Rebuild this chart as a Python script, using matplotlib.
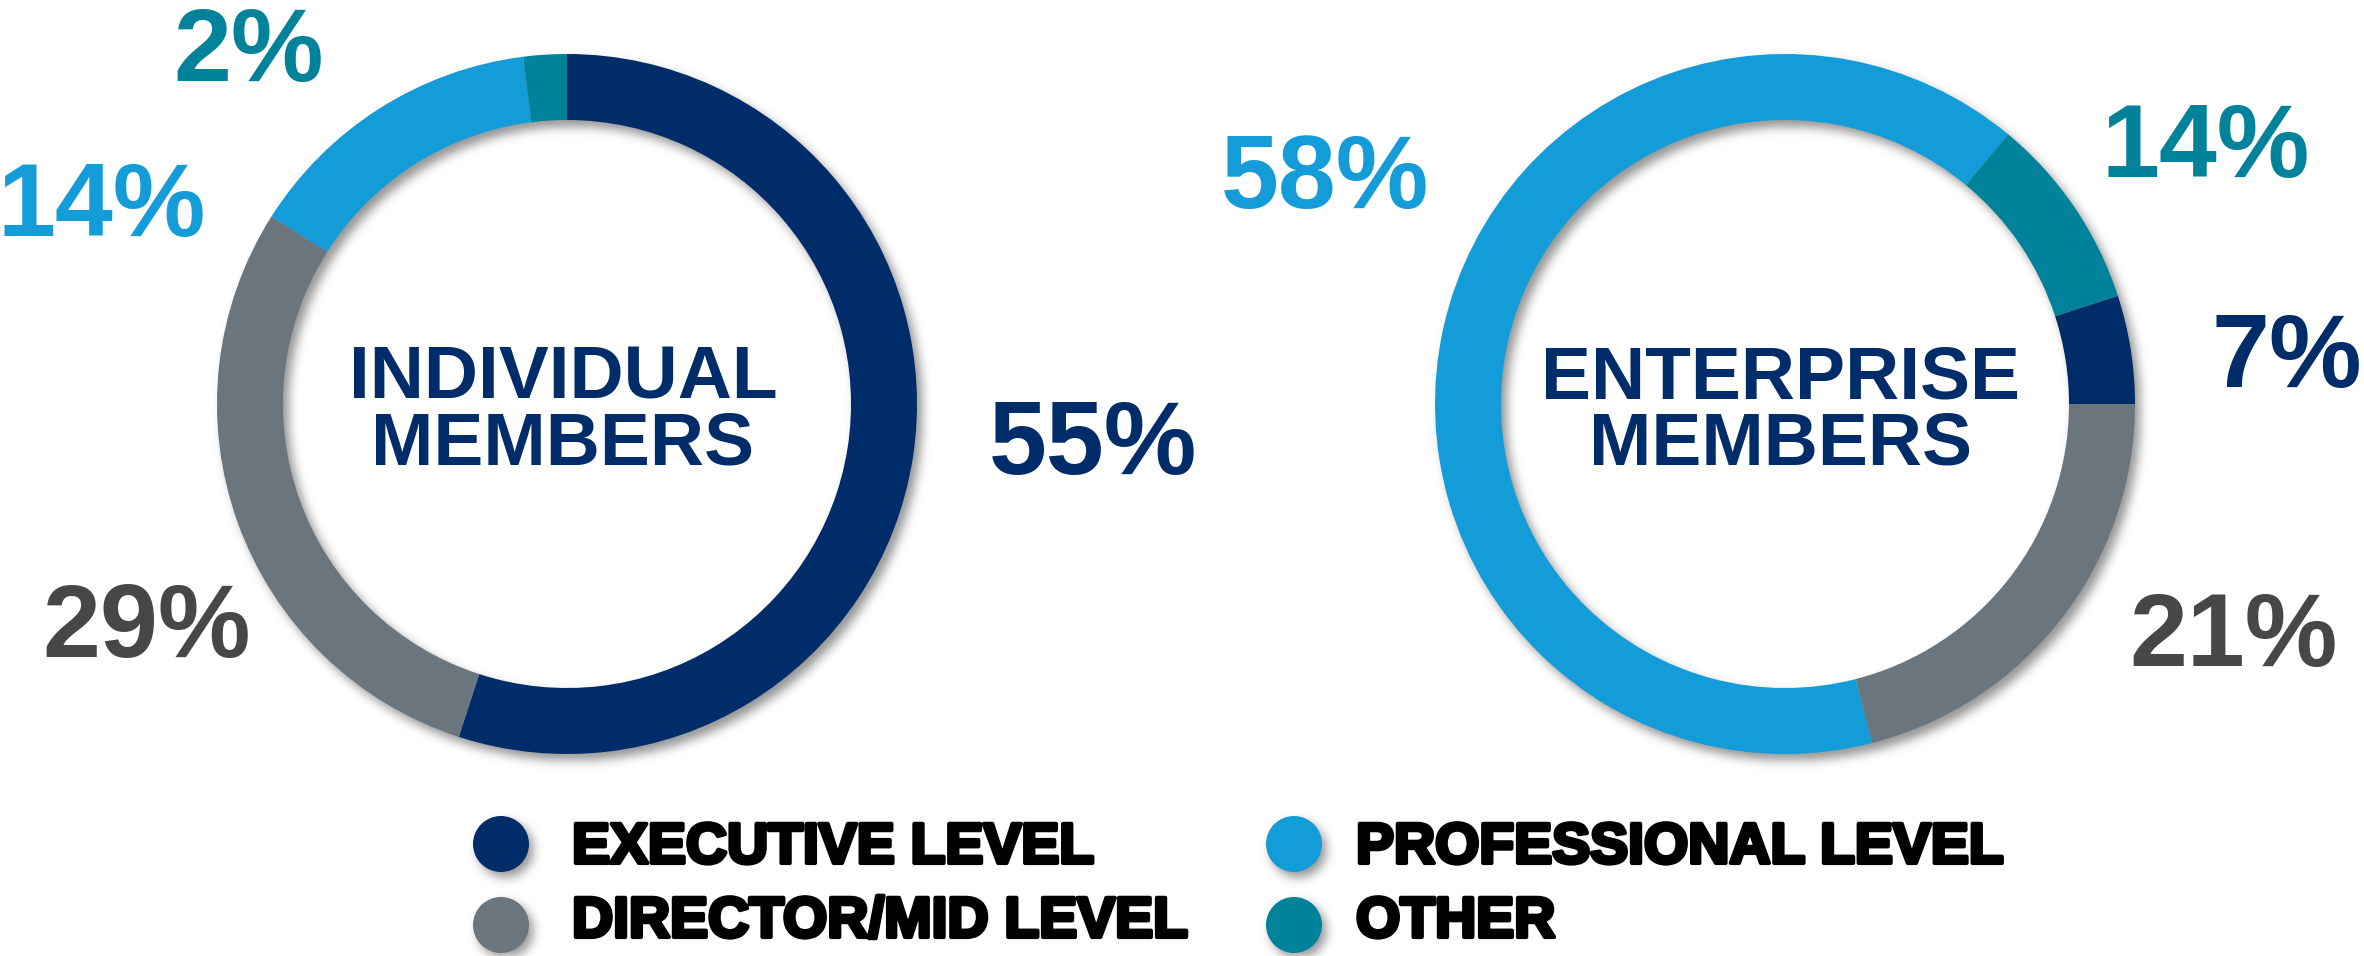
import numpy as np
import matplotlib
matplotlib.use("Agg")
import matplotlib.pyplot as plt
from matplotlib.patches import Circle
import matplotlib.patheffects as pe

# ---------------- data ----------------
categories = ["EXECUTIVE LEVEL", "DIRECTOR/MID LEVEL", "PROFESSIONAL LEVEL", "OTHER"]
colors = ["#002D6A", "#6A757E", "#149CD8", "#00829B"]
label_colors = ["#002D6A", "#464848", "#149CD8", "#00829B"]

individual_shares = [55, 29, 14, 2]          # arc sizes as drawn
enterprise_shares = [5, 21, 65, 9]           # arc sizes as drawn
individual_labels = ["55%", "29%", "14%", "2%"]
enterprise_labels = ["7%", "21%", "58%", "14%"]
titles = [("INDIVIDUAL", "MEMBERS"), ("ENTERPRISE", "MEMBERS")]

# ---------------- layout ----------------
W, H = 2364, 956
fig = plt.figure(figsize=(W / 100, H / 100), dpi=100)
ax = fig.add_axes([0, 0, 1, 1])

def Y(y):
    return H - y

centers_px = [(567, 404), (1785, 404)]
R, RW = 350, 66
startangles = [90, 18]

label_pos = [
    [(1093, 474), (147, 657), (102, 236), (249, 81)],
    [(2287, 387), (2234, 666), (1325, 208), (2206, 177)],
]

leg_circles = [(501, 844), (501, 925), (1294, 844), (1294, 925)]
leg_text = [(572, 863), (572, 937), (1356, 863), (1356, 937)]
leg_r = 28

# ---------------- soft drop shadow ----------------
P = 20
rows, cols = np.mgrid[0:H, 0:W].astype(float)
mask = np.zeros((H, W))
dx, dy = 5, 6
for (cx, cy) in centers_px:
    d = np.hypot(cols - (cx + dx), rows - (cy + dy))
    mask[(d <= R) & (d >= R - RW)] = 1.0
for (cx, cy) in leg_circles:
    d = np.hypot(cols - (cx + 4), rows - (cy + 5))
    mask[d <= leg_r] = 1.0
mask = np.pad(mask, P)

sigma = 5.0
k = np.arange(-15, 16)
g = np.exp(-k ** 2 / (2 * sigma ** 2))
g /= g.sum()
blur = np.zeros_like(mask)
for kk, w in zip(k, g):
    blur += w * np.roll(mask, kk, axis=1)
blur2 = np.zeros_like(blur)
for kk, w in zip(k, g):
    blur2 += w * np.roll(blur, kk, axis=0)
blur2 = blur2[P:-P, P:-P]

rgba = np.zeros((H, W, 4))
rgba[..., :3] = 0.25
rgba[..., 3] = 0.55 * blur2
ax.imshow(rgba, extent=(0, W, 0, H), origin="upper", zorder=0, interpolation="bilinear")

# ---------------- donuts ----------------
for i, shares in enumerate([individual_shares, enterprise_shares]):
    cx, cy = centers_px[i]
    ax.pie(shares, colors=colors, radius=R, center=(cx, Y(cy)),
           startangle=startangles[i], counterclock=False,
           wedgeprops=dict(width=RW, linewidth=0, zorder=2), frame=True)

# percentage labels
for i, labs in enumerate([individual_labels, enterprise_labels]):
    for j, lab in enumerate(labs):
        x, y = label_pos[i][j]
        ax.text(x, Y(y), lab, ha="center", va="baseline", fontsize=75,
                fontweight="bold", family="Liberation Sans", color=label_colors[j], zorder=5)

# center titles
for i, (l1, l2) in enumerate(titles):
    cx = [563, 1780][i]
    ax.text(cx, Y(398), l1, ha="center", va="baseline", fontsize=54,
            fontweight="bold", family="Liberation Sans", color="#002D6A", zorder=5)
    ax.text(cx, Y(464), l2, ha="center", va="baseline", fontsize=54,
            fontweight="bold", family="Liberation Sans", color="#002D6A", zorder=5)

# legend
for j, cat in enumerate(categories):
    cx, cy = leg_circles[j]
    ax.add_patch(Circle((cx, Y(cy)), leg_r, color=colors[j], linewidth=0, zorder=3))
    tx, ty = leg_text[j]
    ax.text(tx, Y(ty), cat, ha="left", va="baseline", fontsize=41,
            fontweight="bold", family="Liberation Sans", color="black", zorder=5,
            path_effects=[pe.withStroke(linewidth=3, foreground="black")])

ax.set_xlim(0, W)
ax.set_ylim(0, H)
ax.set_aspect("equal")
ax.axis("off")

fig.savefig("out.png", dpi=100, facecolor="white")
